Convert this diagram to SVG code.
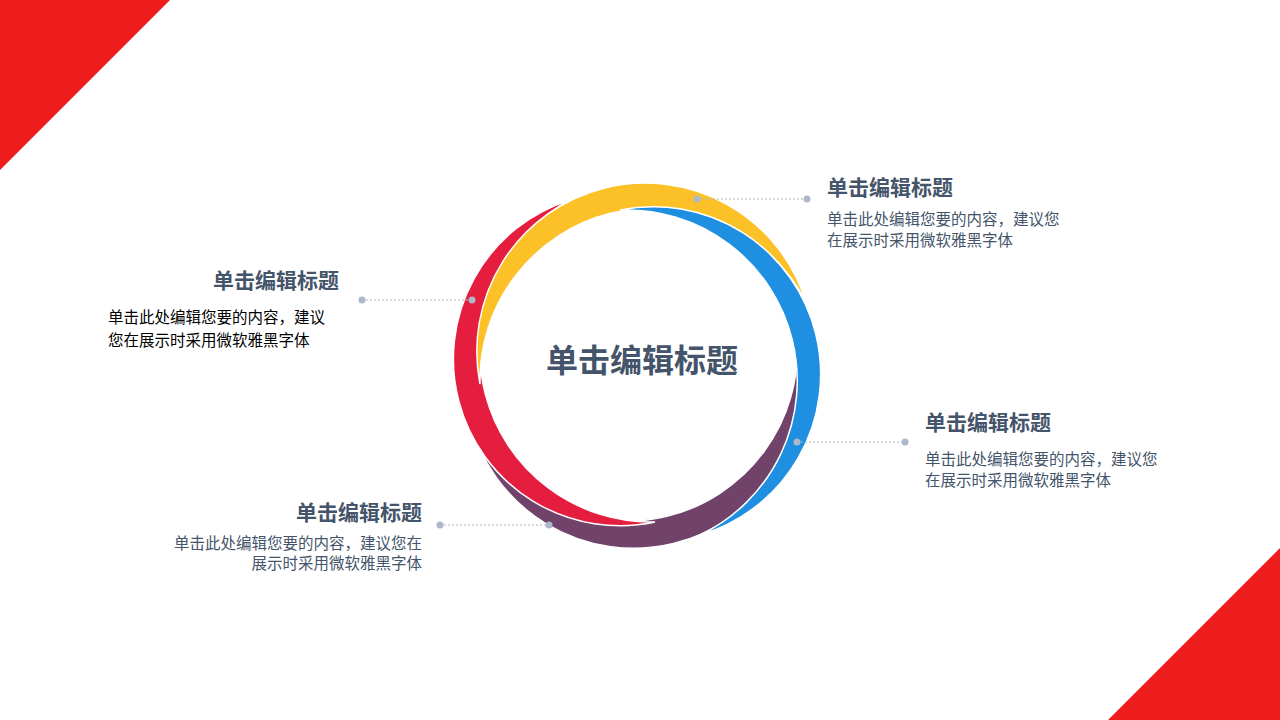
<svg xmlns="http://www.w3.org/2000/svg" width="1280" height="720" viewBox="0 0 1280 720">
<style>
.t{font-family:"Noto Sans CJK SC","Noto Sans",sans-serif;font-weight:bold;font-size:21px;fill:#44546a}
.b{font-family:"Noto Sans CJK SC","Noto Sans",sans-serif;font-size:15.5px;fill:#44546a}
.seg{stroke:#fff;stroke-width:1.5}
.ln{stroke:#adb9ca;stroke-width:1;stroke-dasharray:2 2;fill:none}
.dot{fill:#adb9ca}
</style>
<rect width="1280" height="720" fill="#fff"/>
<polygon points="0,0 170,0 0,170" fill="#ee1c1c"/>
<polygon points="1280,548 1280,720 1108,720" fill="#ee1c1c"/>
<g id="ring">
<path class="seg" fill="#71436b" d="M797,340 A168.3,168.3 0 0 1 470,420 A171.1,171.1 0 0 0 797,340 Z"/>
<path class="seg" fill="#e51e3f" d="M655,522 A166.7,166.7 0 0 1 570,200 A171.2,171.2 0 0 0 655,522 Z"/>
<path class="seg" fill="#fbc127" d="M480,384 A168.3,168.3 0 0 1 806,302 A172.5,172.5 0 0 0 480,384 Z"/>
<path class="seg" fill="#1e8fe1" d="M620,210 A167.5,167.5 0 0 1 700,535 A170.9,170.9 0 0 0 620,210 Z"/>
</g>
<g id="center"><text x="642" y="372" text-anchor="middle" style="font-family:'Noto Sans CJK SC',sans-serif;font-weight:bold;font-size:32px;fill:#44546a">单击编辑标题</text></g>
<g id="connectors">
<line class="ln" x1="697" y1="199" x2="807" y2="199"/><circle class="dot" cx="697" cy="199" r="3.5"/><circle class="dot" cx="807" cy="199" r="3.5"/>
<line class="ln" x1="362" y1="300" x2="472" y2="300"/><circle class="dot" cx="362" cy="300" r="3.5"/><circle class="dot" cx="472" cy="300" r="3.5"/>
<line class="ln" x1="797" y1="442" x2="905" y2="442"/><circle class="dot" cx="797" cy="442" r="3.5"/><circle class="dot" cx="905" cy="442" r="3.5"/>
<line class="ln" x1="440" y1="525" x2="549" y2="525"/><circle class="dot" cx="440" cy="525" r="3.5"/><circle class="dot" cx="549" cy="525" r="3.5"/>
</g>
<g id="n1"><text class="t" x="827" y="195">单击编辑标题</text>
<text class="b" x="827" y="225">单击此处编辑您要的内容，建议您</text><text class="b" x="827" y="246">在展示时采用微软雅黑字体</text></g>
<g id="n2"><text class="t" x="339" y="288" text-anchor="end">单击编辑标题</text>
<text class="b" x="108" y="323" style="fill:#000">单击此处编辑您要的内容，建议</text><text class="b" x="108" y="346" style="fill:#000">您在展示时采用微软雅黑字体</text></g>
<g id="n3"><text class="t" x="925" y="430">单击编辑标题</text>
<text class="b" x="925" y="465">单击此处编辑您要的内容，建议您</text><text class="b" x="925" y="486">在展示时采用微软雅黑字体</text></g>
<g id="n4"><text class="t" x="422" y="520" text-anchor="end">单击编辑标题</text>
<text class="b" x="422" y="549" text-anchor="end">单击此处编辑您要的内容，建议您在</text><text class="b" x="422" y="569" text-anchor="end">展示时采用微软雅黑字体</text></g>
</svg>
